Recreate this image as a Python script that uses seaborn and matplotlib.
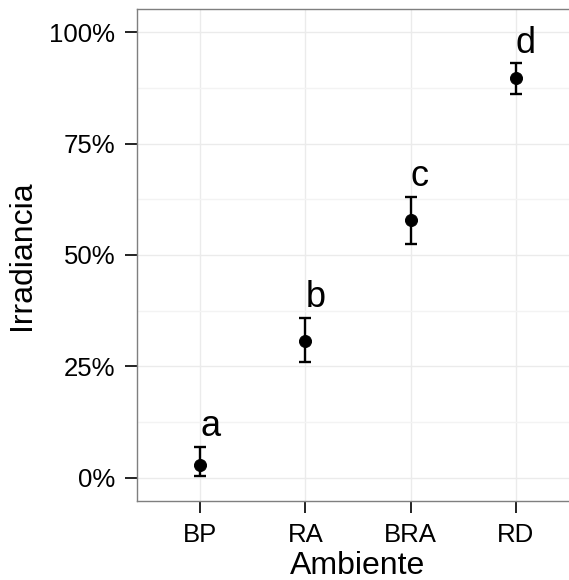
import matplotlib
matplotlib.use("Agg")
import matplotlib.pyplot as plt
import seaborn as sns
import pandas as pd
from matplotlib.ticker import FuncFormatter, MultipleLocator

# data
ambiente = ["BP", "RA", "BRA", "RD"]
media = [0.028, 0.308, 0.578, 0.898]
inferior = [0.003, 0.259, 0.524, 0.861]
superior = [0.070, 0.359, 0.631, 0.930]
letras = ["a", "b", "c", "d"]

df = pd.DataFrame({"Ambiente": ambiente, "Irradiancia": media,
                   "lo": inferior, "hi": superior, "letra": letras})

sns.set_theme(style="whitegrid")
plt.rcParams["font.family"] = ["Liberation Sans", "DejaVu Sans"]

fig = plt.figure(figsize=(5.69, 5.80), dpi=100)
ax = fig.add_axes([0.2408, 0.1362, 0.7768, 0.8483])

# error bars
ax.errorbar(df["Ambiente"], df["Irradiancia"],
            yerr=[df["Irradiancia"] - df["lo"], df["hi"] - df["Irradiancia"]],
            fmt="none", ecolor="black", elinewidth=1.7, capsize=4, capthick=1.7,
            zorder=3)

sns.scatterplot(data=df, x="Ambiente", y="Irradiancia", color="black",
                s=75, edgecolor="black", zorder=4, ax=ax)

# significance letters
for i, row in df.iterrows():
    ax.annotate(row["letra"], xy=(i, row["hi"]), xytext=(0, 2),
                textcoords="offset points", ha="left", va="bottom",
                fontsize=26, color="black")

ax.set_xlim(-0.6, 3.6)
ax.set_ylim(-0.052, 1.052)
ax.yaxis.set_major_locator(MultipleLocator(0.25))
ax.yaxis.set_minor_locator(MultipleLocator(0.125))
ax.yaxis.set_major_formatter(FuncFormatter(lambda v, p: f"{v * 100:.0f}%"))

ax.grid(which="major", color="#EBEBEB", linewidth=1.0)
ax.grid(which="minor", axis="y", color="#F3F3F3", linewidth=1.0)
ax.set_axisbelow(True)

for sp in ax.spines.values():
    sp.set_color("#7F7F7F")
    sp.set_linewidth(1.0)
ax.spines["right"].set_visible(False)

ax.tick_params(axis="both", which="major", length=8.5, width=1.4,
               color="#222222", labelsize=18.5, labelcolor="black", pad=7,
               left=True, bottom=True)
ax.tick_params(axis="y", which="minor", length=0)

ax.set_xlabel("Ambiente", fontsize=23, labelpad=3, color="black")
ax.set_ylabel("Irradiancia", fontsize=23, labelpad=9, color="black")

fig.savefig("out.png", dpi=100)
